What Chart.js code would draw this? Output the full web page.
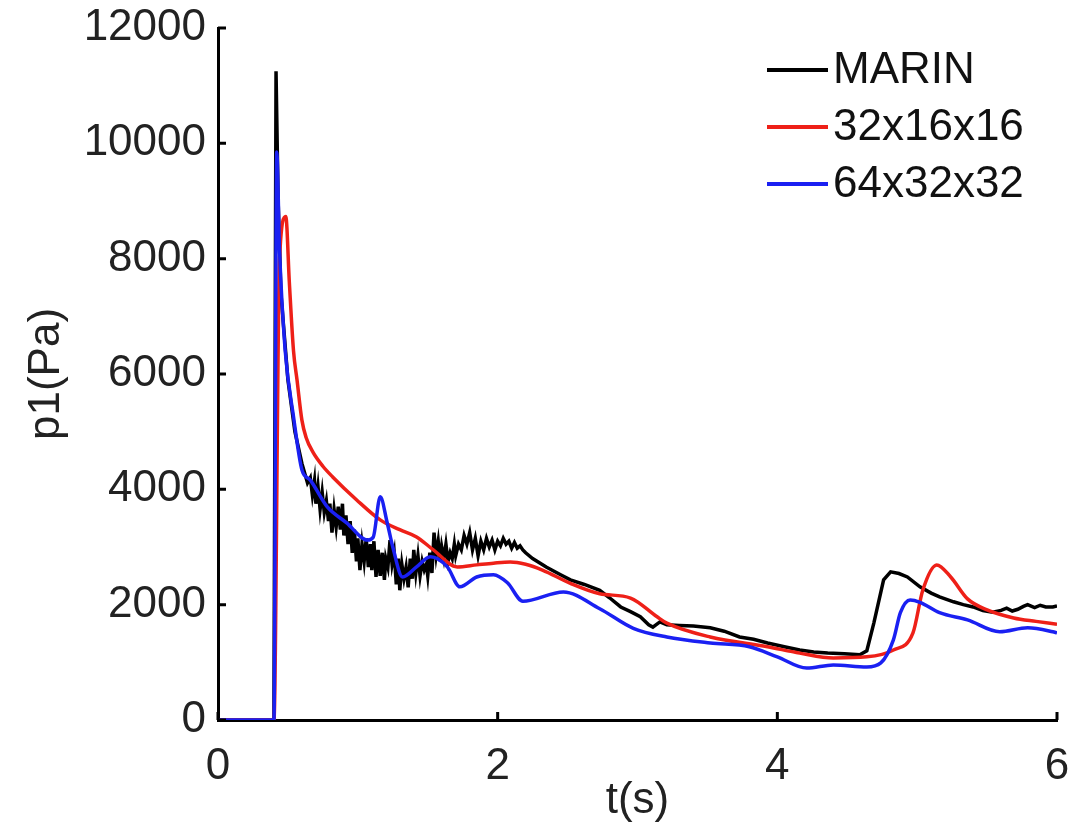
<!DOCTYPE html>
<html lang="en">
<head>
    <meta charset="UTF-8">
    <title>p1(Pa) vs t(s)</title>
    <script src="https://cdn.jsdelivr.net/npm/chart.js"></script>
    <style>
        html, body { margin: 0; padding: 0; background: #fff; }
        #wrap { width: 1070px; height: 829px; }
    </style>
</head>
<body>
    <div id="wrap"><canvas id="pressureChart" width="1070" height="829"></canvas></div>

    <script>
        // series
        const seriesNames = ["MARIN", "32x16x16", "64x32x32"];

        const tMarin = [0, 0.39, 0.40, 0.415, 0.43, 0.45, 0.50, 0.55, 0.60, 0.64,
            0.66, 0.675, 0.69, 0.70, 0.715, 0.73, 0.745, 0.76, 0.775, 0.79, 0.80, 0.815, 0.83, 0.845, 0.86,
            0.875, 0.89, 0.90, 0.915, 0.93, 0.945, 0.96, 0.975, 0.99, 1.00, 1.015, 1.03, 1.045, 1.06, 1.075,
            1.09, 1.10, 1.115, 1.13, 1.145, 1.16, 1.175, 1.19, 1.20, 1.215, 1.23, 1.245, 1.26, 1.275, 1.29,
            1.30, 1.315, 1.33, 1.345, 1.36, 1.375, 1.39, 1.40, 1.415, 1.43, 1.445, 1.46, 1.475, 1.49, 1.50,
            1.515, 1.53, 1.545, 1.56, 1.575, 1.59, 1.60, 1.615, 1.63, 1.645, 1.66, 1.675, 1.69, 1.70, 1.72,
            1.74, 1.76, 1.78, 1.80, 1.82, 1.84, 1.86, 1.88, 1.90, 1.92, 1.94, 1.96, 1.98, 2.00, 2.02, 2.04,
            2.06, 2.08, 2.10, 2.12, 2.14, 2.16, 2.18, 2.20, 2.25, 2.35, 2.45, 2.52, 2.62, 2.73, 2.80, 2.88,
            2.95, 3.02, 3.08, 3.11, 3.16, 3.21, 3.30, 3.40, 3.52, 3.62, 3.73, 3.83, 3.93, 4.05, 4.16, 4.26,
            4.36, 4.48, 4.59, 4.64, 4.69, 4.76, 4.81, 4.87, 4.93, 5.02, 5.10, 5.16, 5.26, 5.33, 5.40, 5.47,
            5.54, 5.60, 5.64, 5.68, 5.72, 5.76, 5.79, 5.84, 5.88, 5.92, 5.97, 6.0];
        const pMarin = [0, 0, 0, 11250, 9000, 7400, 5900, 5000, 4450, 4110,
            4200, 3900, 4150, 3750, 4050, 3650, 3950, 3600, 3800, 3450, 3750, 3250, 3650, 3350, 3700,
            3300, 3750, 3200, 3550, 3050, 3450, 2900, 3300, 2750, 3150, 2600, 3050, 2750, 3150, 2650,
            3050, 2600, 3100, 2480, 2950, 2500, 2900, 2430, 2800, 2650, 3120, 2700, 2900, 2350, 2800,
            2250, 2700, 2450, 2650, 2300, 2800, 2450, 2950, 2550, 2850, 2500, 2750, 2600, 2700, 2500,
            2900, 2550, 3250, 2850, 3100, 2750, 3000, 2800, 3050, 2750, 2900, 2800, 3050, 2850, 3050,
            2950, 3200, 3050, 3250, 2950, 3150, 2850, 3100, 2950, 3150, 3000, 3120, 2950, 3100, 3020, 3150,
            3050, 3100, 2980, 3080, 2980, 3020, 2950, 2900, 2800, 2650, 2520, 2430, 2350, 2250, 2120, 1960,
            1880, 1790, 1650, 1610, 1700, 1650, 1640, 1630, 1600, 1540, 1440, 1400, 1335, 1270, 1215, 1180,
            1160, 1150, 1130, 1200, 1680, 2430, 2570, 2540, 2480, 2310, 2200, 2135, 2050, 2000, 1960, 1900,
            1870, 1900, 1940, 1890, 1920, 1970, 2000, 1950, 1990, 1960, 1960, 1980];

        const tCoarse = [0, 0.39, 0.40, 0.44, 0.485, 0.51, 0.54, 0.565, 0.60, 0.63, 0.68, 0.75, 0.82, 0.99,
            1.16, 1.30, 1.42, 1.54, 1.71, 1.85, 1.97, 2.09, 2.20, 2.32, 2.52, 2.73, 2.95, 3.14, 3.21, 3.52,
            3.93, 4.16, 4.40, 4.64, 4.83, 4.97, 5.04, 5.14, 5.24, 5.36, 5.50, 5.69, 5.85, 6.0];
        const pCoarse = [0, 0, 0, 8000, 8730, 7600, 6400, 5900, 5200, 4900, 4640, 4400, 4215, 3820,
            3470, 3300, 3175, 2950, 2655, 2690, 2720, 2740, 2700, 2600, 2370, 2190, 2115, 1790, 1680, 1440,
            1270, 1160, 1075, 1095, 1215, 1510, 2250, 2690, 2480, 2100, 1910, 1770, 1710, 1660];

        const tFine = [0, 0.39, 0.40, 0.42, 0.44, 0.48, 0.54, 0.60, 0.66, 0.78, 0.92, 1.07, 1.11, 1.16, 1.21,
            1.25, 1.32, 1.42, 1.52, 1.64, 1.73, 1.85, 1.97, 2.07, 2.18, 2.47, 2.73, 2.97, 3.21, 3.52, 3.80,
            4.00, 4.21, 4.40, 4.64, 4.74, 4.83, 4.88, 4.95, 5.02, 5.16, 5.36, 5.59, 5.79, 5.97, 6.0];
        const pFine = [0, 0, 0, 9850, 8150, 6420, 5260, 4340, 4160, 3700, 3420, 3120, 3170, 3870, 3420,
            3000, 2480, 2655, 2830, 2655, 2310, 2480, 2520, 2380, 2060, 2220, 1930, 1590, 1440, 1335, 1270,
            1095, 900, 955, 920, 990, 1390, 1860, 2080, 2040, 1860, 1735, 1530, 1600, 1530, 1510];

        const xTicks = [0, 2, 4, 6];
        const yTicks = [0, 2000, 4000, 6000, 8000, 10000, 12000];

        const seriesColors = ["#000000", "#ee2018", "#1a20f2"];
        const fontFamily = "'Liberation Sans', Arial, Helvetica, sans-serif";

        function toPoints(ts, ps) {
            return ts.map((t, i) => ({ x: t, y: ps[i] }));
        }

        // legend drawn inside the plot, matlab style
        const innerLegend = {
            id: "innerLegend",
            afterDatasetsDraw(chart) {
                const ctx = chart.ctx;
                ctx.save();
                ctx.font = "44px " + fontFamily;
                ctx.textBaseline = "middle";
                chart.data.datasets.forEach((ds, i) => {
                    const y = 70 + i * 57;
                    ctx.strokeStyle = ds.borderColor;
                    ctx.lineWidth = 4;
                    ctx.beginPath();
                    ctx.moveTo(767, y);
                    ctx.lineTo(828, y);
                    ctx.stroke();
                    ctx.fillStyle = "#111";
                    ctx.fillText(ds.label, 833, y + 1);
                });
                ctx.restore();
            }
        };

        // small tick marks pointing into the plot
        const inwardTicks = {
            id: "inwardTicks",
            afterDraw(chart) {
                const ctx = chart.ctx;
                const xs = chart.scales.x, ys = chart.scales.y;
                const area = chart.chartArea;
                ctx.save();
                ctx.strokeStyle = "#000";
                ctx.lineWidth = 3;
                ctx.beginPath();
                xTicks.forEach(v => {
                    const px = xs.getPixelForValue(v);
                    ctx.moveTo(px, area.bottom);
                    ctx.lineTo(px, area.bottom - 8);
                });
                yTicks.forEach(v => {
                    const py = ys.getPixelForValue(v);
                    ctx.moveTo(area.left, py);
                    ctx.lineTo(area.left + 8, py);
                });
                ctx.stroke();
                ctx.restore();
            }
        };

        const ctx = document.getElementById("pressureChart").getContext("2d");

        new Chart(ctx, {
            type: "scatter",
            data: {
                datasets: [
                    { label: seriesNames[0], data: toPoints(tMarin, pMarin), borderColor: seriesColors[0], order: 3 },
                    { label: seriesNames[1], data: toPoints(tCoarse, pCoarse), borderColor: seriesColors[1], order: 2, cubicInterpolationMode: "monotone" },
                    { label: seriesNames[2], data: toPoints(tFine, pFine), borderColor: seriesColors[2], order: 1, cubicInterpolationMode: "monotone" }
                ].map(ds => Object.assign({
                    showLine: true,
                    borderWidth: 3.5,
                    pointRadius: 0,
                    backgroundColor: ds.borderColor,
                    fill: false
                }, ds))
            },
            options: {
                responsive: false,
                animation: false,
                layout: { padding: { top: 28, right: 13, left: 0, bottom: 0 } },
                plugins: {
                    legend: { display: false },
                    tooltip: { enabled: false }
                },
                scales: {
                    x: {
                        type: "linear",
                        min: 0,
                        max: 6,
                        afterBuildTicks: s => { s.ticks = xTicks.map(v => ({ value: v })); },
                        afterFit: s => { s.height = 109; s.paddingLeft = 0; s.paddingRight = 0; },
                        grid: { display: true, drawOnChartArea: false, drawTicks: false },
                        border: { display: true, color: "#000", width: 3 },
                        ticks: {
                            color: "#222",
                            padding: 20,
                            font: { family: fontFamily, size: 44 },
                            callback: v => String(v)
                        },
                        title: {
                            display: true,
                            text: "t(s)",
                            color: "#222",
                            padding: { top: 0, bottom: 2 },
                            font: { family: fontFamily, size: 44 }
                        }
                    },
                    y: {
                        type: "linear",
                        min: 0,
                        max: 12000,
                        afterBuildTicks: s => { s.ticks = yTicks.map(v => ({ value: v })); },
                        afterFit: s => { s.width = 218; s.paddingTop = 0; s.paddingBottom = 0; },
                        grid: { display: true, drawOnChartArea: false, drawTicks: false },
                        border: { display: true, color: "#000", width: 3 },
                        ticks: {
                            color: "#222",
                            padding: 12,
                            font: { family: fontFamily, size: 44 },
                            callback: v => String(v)
                        },
                        title: {
                            display: true,
                            text: "p1(Pa)",
                            color: "#222",
                            padding: { top: 20, bottom: 0 },
                            font: { family: fontFamily, size: 44 }
                        }
                    }
                }
            },
            plugins: [innerLegend, inwardTicks]
        });
    </script>
</body>
</html>
